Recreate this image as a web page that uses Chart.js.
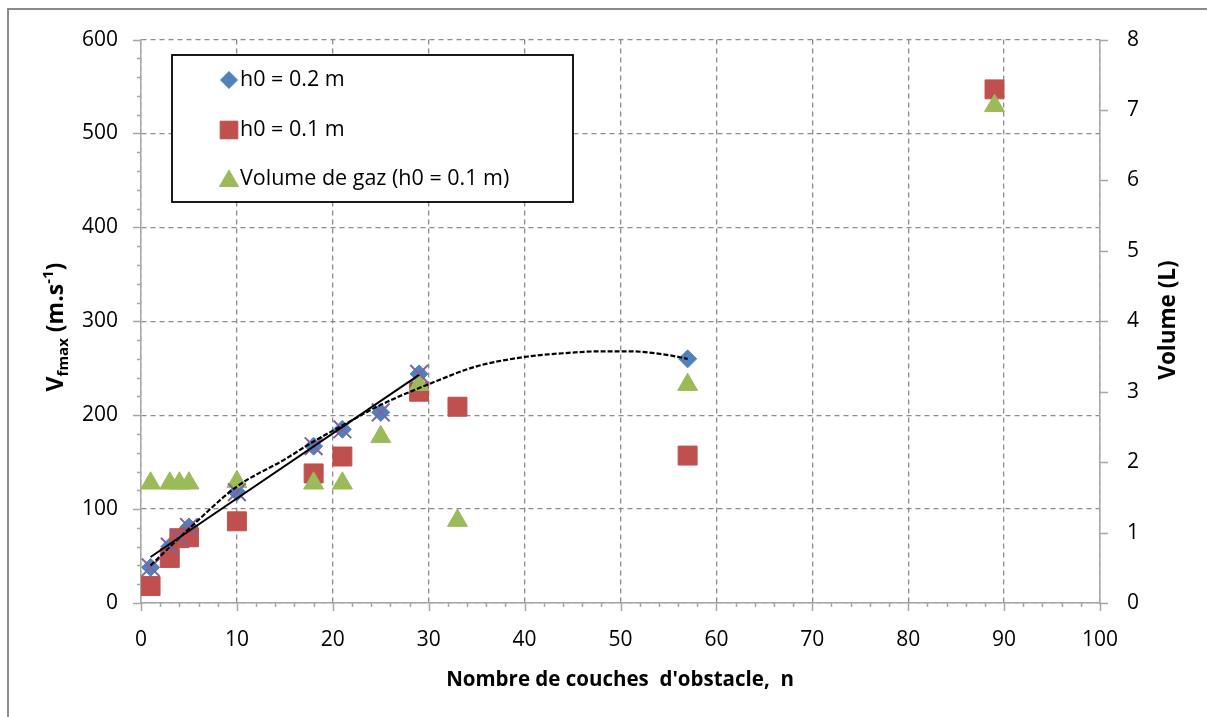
<!DOCTYPE html>
<html><head><meta charset="utf-8">
<script src="https://cdn.jsdelivr.net/npm/chart.js@4"></script>
<style>html,body{margin:0;padding:0;background:#fff;overflow:hidden}</style>
</head><body>
<canvas id="c" width="1207" height="717"></canvas>
<script>
// ---- data ----
const blueX = [1, 3, 4, 5, 10, 18, 21, 25, 29, 57];
const blueY = [38, 60, 70, 81, 118, 167, 185, 203, 244, 260];
const crossX = [1, 3, 4, 5, 10, 18, 21, 25, 29];
const crossY = [38, 60, 70, 81, 118, 167, 185, 203, 244];
const redX = [1, 3, 4, 5, 10, 18, 21, 29, 33, 57, 89];
const redY = [18, 48, 69, 70, 87, 138, 156, 225, 209, 157, 547];
const greenX = [1, 3, 4, 5, 10, 18, 21, 25, 29, 33, 57, 89];
const greenY = [1.7, 1.7, 1.7, 1.7, 1.72, 1.7, 1.7, 2.36, 3.1, 1.17, 3.1, 7.06];
const linTrendX = [1, 29];
const linTrendY = [49, 243];
const polyTrendX = [1, 5, 10, 15, 18, 21, 25, 30, 35, 40, 44, 48, 51, 55, 57];
const polyTrendY = [40, 79, 124, 153, 172, 189, 211, 233, 252, 262, 266, 268, 268, 264, 260];
const xTicks = [0, 10, 20, 30, 40, 50, 60, 70, 80, 90, 100];
const leftTicks = [0, 100, 200, 300, 400, 500, 600];
const rightTicks = [0, 1, 2, 3, 4, 5, 6, 7, 8];
const xMinorStep = 2, leftMinorStep = 20;
const labels = ['h0 = 0.2 m', 'h0 = 0.1 m', 'Volume de gaz (h0 = 0.1 m)'];

const FONT = 'Open Sans';
const pts = (xs, ys) => xs.map((x, i) => ({x: x, y: ys[i]}));
const BLUE = '#4F81BD', RED = '#C0504D', GREEN = '#9BBB59', PURPLE = '#8064A2';
const AXIS = '#a6a6a6', GRID = '#8c8c8c';

const decor = {
  id: 'decor',
  beforeDraw(chart) {
    const ctx = chart.ctx;
    ctx.save();
    ctx.fillStyle = '#fff';
    ctx.fillRect(0, 0, chart.width, chart.height);
    ctx.strokeStyle = '#8a8a8a';
    ctx.lineWidth = 2;
    ctx.strokeRect(8, 9, chart.width + 20, chart.height + 20);
    ctx.restore();
  },
  afterDraw(chart) {
    const ctx = chart.ctx;
    const sx = chart.scales.x, sy = chart.scales.y, sr = chart.scales.y2;
    const ca = chart.chartArea;
    ctx.save();
    // tick marks
    ctx.strokeStyle = AXIS;
    ctx.lineWidth = 1.5;
    ctx.beginPath();
    for (let v = 0; v <= 100; v += xMinorStep) {
      const px = Math.round(sx.getPixelForValue(v)) + 0.5;
      const len = xTicks.includes(v) ? 8 : 4;
      ctx.moveTo(px, ca.bottom); ctx.lineTo(px, ca.bottom + len);
    }
    for (let v = 0; v <= 600; v += leftMinorStep) {
      const py = Math.round(sy.getPixelForValue(v)) + 0.5;
      const len = leftTicks.includes(v) ? 8 : 4;
      ctx.moveTo(ca.left - len, py); ctx.lineTo(ca.left, py);
    }
    rightTicks.forEach(v => {
      const py = Math.round(sr.getPixelForValue(v)) + 0.5;
      ctx.moveTo(ca.right, py); ctx.lineTo(ca.right + 8, py);
    });
    ctx.stroke();

    // axis titles
    ctx.fillStyle = '#000';
    ctx.textBaseline = 'alphabetic';
    ctx.font = 'bold 20.5px "' + FONT + '"';
    ctx.textAlign = 'center';
    ctx.fillText("Nombre de couches  d'obstacle,  n", 620, 686);
    ctx.save();
    ctx.translate(1175, 320);
    ctx.rotate(-Math.PI / 2);
    ctx.textAlign = 'center';
    ctx.font = 'bold 22.5px "' + FONT + '"';
    ctx.fillText('Volume (L)', 0, 0);
    ctx.restore();
    ctx.save();
    ctx.translate(63, 327);
    ctx.rotate(-Math.PI / 2);
    const parts = [
      {t: 'V', f: 'bold 23px', dy: 0},
      {t: 'fmax', f: 'bold 15px', dy: 5},
      {t: ' (m.s', f: 'bold 23px', dy: 0},
      {t: '-1', f: 'bold 15px', dy: -10},
      {t: ')', f: 'bold 23px', dy: 0}
    ];
    let total = 0;
    parts.forEach(p => { ctx.font = p.f + ' "' + FONT + '"'; p.w = ctx.measureText(p.t).width; total += p.w; });
    let cx = -total / 2;
    ctx.textAlign = 'left';
    parts.forEach(p => { ctx.font = p.f + ' "' + FONT + '"'; ctx.fillText(p.t, cx, p.dy); cx += p.w; });
    ctx.restore();

    // legend
    const bx = 172, by = 55, bw = 401, bh = 147;
    ctx.fillStyle = '#fff';
    ctx.fillRect(bx, by, bw, bh);
    ctx.strokeStyle = '#000';
    ctx.lineWidth = 1.8;
    ctx.strokeRect(bx, by, bw, bh);
    const items = [
      {style: 'rectRot', r: 8.5, c: BLUE},
      {style: 'rect', r: 12.5, c: RED},
      {style: 'triangle', r: 11, c: GREEN}
    ];
    const rows = [80, 130, 179];
    ctx.font = '21.5px "' + FONT + '"';
    ctx.textAlign = 'left';
    ctx.textBaseline = 'middle';
    items.forEach((it, i) => {
      ctx.fillStyle = it.c; ctx.strokeStyle = it.c; ctx.lineWidth = 1;
      const yy = it.style === 'triangle' ? rows[i] + 2 : rows[i];
      Chart.helpers.drawPoint(ctx, {pointStyle: it.style, radius: it.r, borderWidth: 1, rotation: 0}, 229, yy);
      ctx.fillStyle = '#000';
      ctx.fillText(labels[i], 240, rows[i]);
    });
    ctx.restore();
  }
};

const tickFont = {family: FONT, size: 21};
new Chart(document.getElementById('c'), {
  type: 'scatter',
  data: {
    datasets: [
      {label: 'lin', data: pts(linTrendX, linTrendY), showLine: true, borderColor: '#000', borderWidth: 2,
       pointRadius: 0, yAxisID: 'y', order: -2},
      {label: 'poly', data: pts(polyTrendX, polyTrendY), showLine: true, borderColor: '#000', borderWidth: 2.2,
       borderDash: [5, 2], pointRadius: 0, tension: 0.4, cubicInterpolationMode: 'monotone', yAxisID: 'y', order: -1},
      {label: 'x', data: pts(crossX, crossY), pointStyle: 'crossRot', pointRadius: 12.5, borderColor: PURPLE,
       borderWidth: 2, backgroundColor: PURPLE, yAxisID: 'y', order: 0},
      {label: labels[2], data: pts(greenX, greenY), pointStyle: 'triangle', pointRadius: 11.5,
       backgroundColor: GREEN, borderColor: GREEN, borderWidth: 1, yAxisID: 'y2', order: 1},
      {label: labels[1], data: pts(redX, redY), pointStyle: 'rect', pointRadius: 13.4,
       backgroundColor: RED, borderColor: RED, borderWidth: 1, yAxisID: 'y', order: 2},
      {label: labels[0], data: pts(blueX, blueY), pointStyle: 'rectRot', pointRadius: 9,
       backgroundColor: BLUE, borderColor: BLUE, borderWidth: 1, yAxisID: 'y', order: 3}
    ]
  },
  options: {
    responsive: false,
    animation: false,
    events: [],
    layout: {padding: {top: 35, left: 0, right: 0, bottom: 0}},
    plugins: {legend: {display: false}, tooltip: {enabled: false}},
    elements: {point: {hoverRadius: 0}},
    scales: {
      x: {
        type: 'linear', position: 'bottom', min: 0, max: 100,
        afterBuildTicks: s => { s.ticks = xTicks.map(v => ({value: v})); },
        afterFit: s => { s.height = 114; },
        ticks: {font: tickFont, color: '#000', padding: 24, maxRotation: 0, autoSkip: false},
        grid: {color: GRID, lineWidth: 1.3, drawTicks: false},
        border: {display: true, color: AXIS, width: 1.5, dash: [5, 4]}
      },
      y: {
        type: 'linear', position: 'left', min: 0, max: 600,
        afterBuildTicks: s => { s.ticks = leftTicks.map(v => ({value: v})); },
        afterFit: s => { s.width = 141; },
        ticks: {font: tickFont, color: '#000', padding: 23, autoSkip: false},
        grid: {color: GRID, lineWidth: 1.3, drawTicks: false},
        border: {display: true, color: AXIS, width: 1.5, dash: [5, 4]}
      },
      y2: {
        type: 'linear', position: 'right', min: 0, max: 8,
        afterBuildTicks: s => { s.ticks = rightTicks.map(v => ({value: v})); },
        afterFit: s => { s.width = 107; },
        ticks: {font: tickFont, color: '#000', padding: 27, autoSkip: false},
        grid: {display: false, drawTicks: false},
        border: {display: true, color: AXIS, width: 1.5}
      }
    }
  },
  plugins: [decor]
});
</script>
</body></html>
